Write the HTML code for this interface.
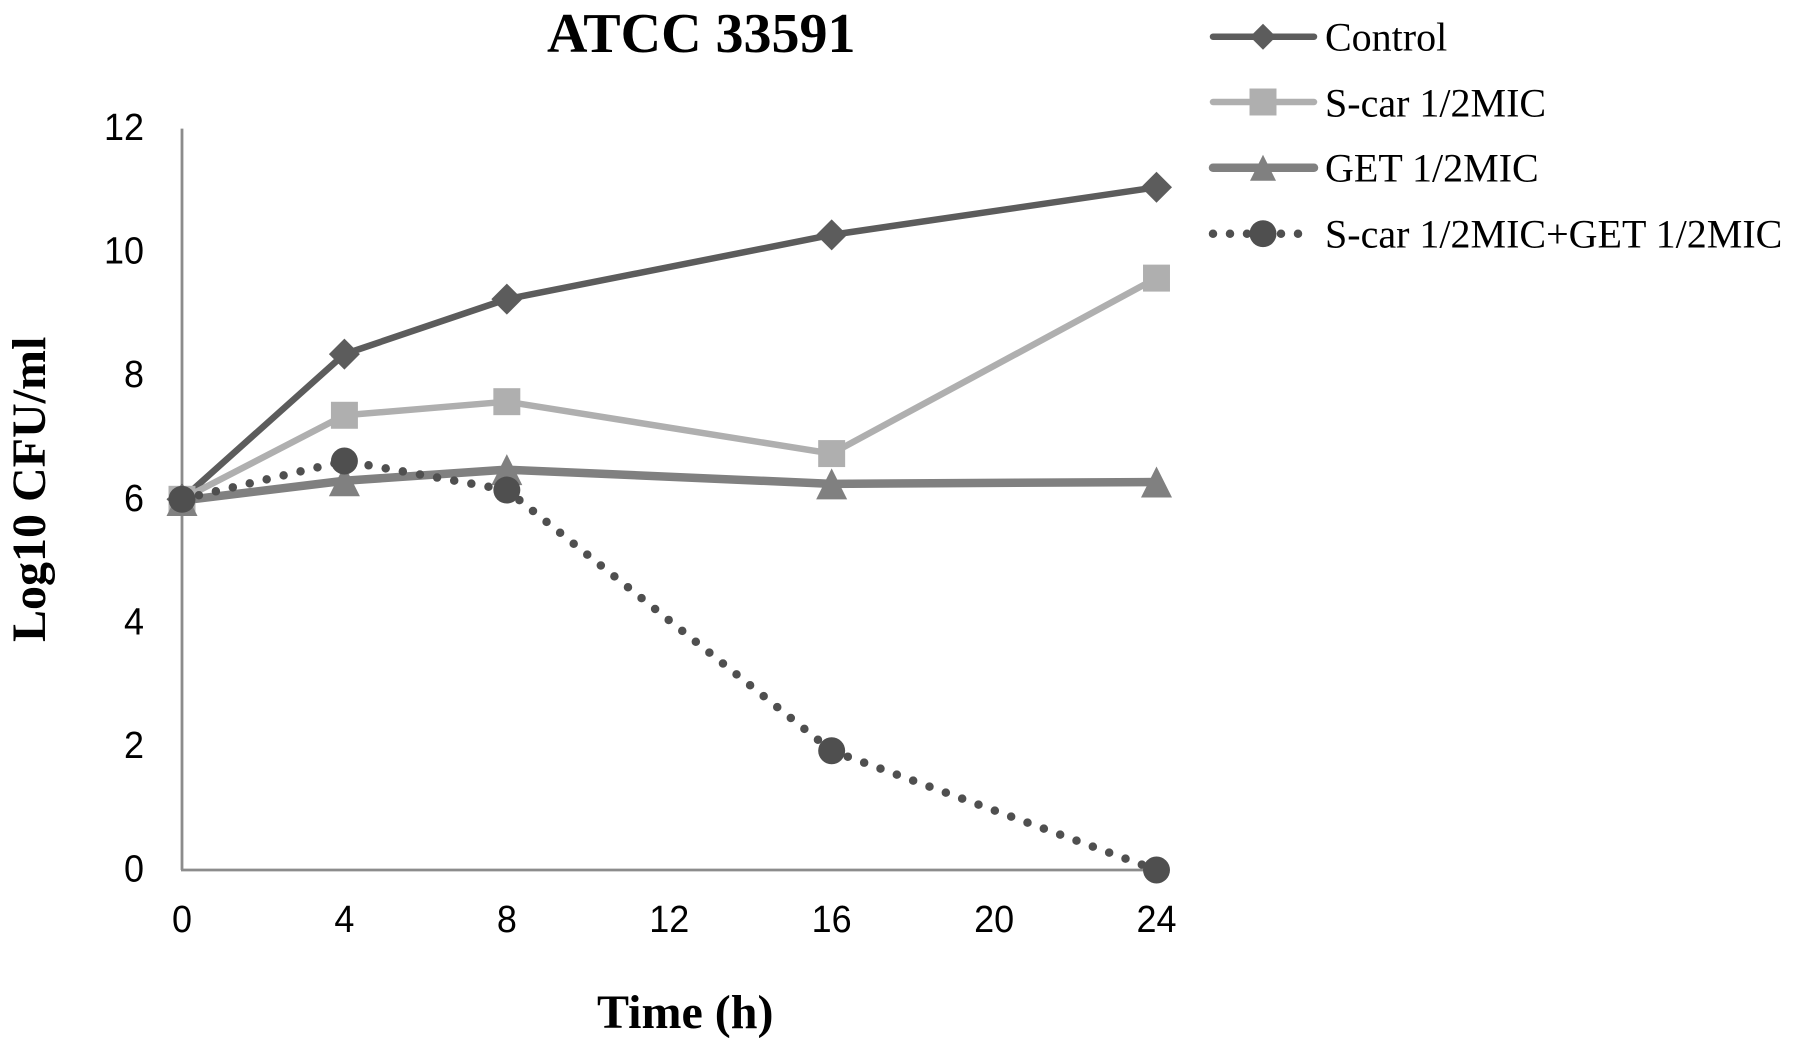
<!DOCTYPE html>
<html lang="en">
<head>
<meta charset="utf-8">
<title>ATCC 33591</title>
<style>
html,body{margin:0;padding:0;background:#fff;}
svg{display:block;}
text{fill:#000;}
.serif{font-family:"Liberation Serif",serif;}
.sans{font-family:"Liberation Sans",sans-serif;}
</style>
</head>
<body>
<svg id="chart" xmlns="http://www.w3.org/2000/svg" width="1795" height="1050" viewBox="0 0 1795 1050">
  <rect x="0" y="0" width="1795" height="1050" fill="#ffffff"/>
  <text class="serif" x="547" y="52" font-size="56" font-weight="bold">ATCC 33591</text>
  <text class="serif" transform="translate(45 642) rotate(-90)" x="0" y="0" font-size="48" font-weight="bold">Log10 CFU/ml</text>
  <text class="serif" x="597" y="1028" font-size="48" font-weight="bold">Time (h)</text>
  <g id="axes"></g>
  <g id="series"></g>
  <g id="legend"></g>
</svg>
<script>
const times = [0, 4, 8, 16, 24];
const xTicks = [0, 4, 8, 12, 16, 20, 24];
const yTicks = [0, 2, 4, 6, 8, 10, 12];
const controlValues = [6.0, 8.35, 9.24, 10.28, 11.05];
const scarValues = [6.0, 7.36, 7.58, 6.74, 9.58];
const getValues = [5.98, 6.3, 6.48, 6.25, 6.28];
const comboValues = [6.0, 6.62, 6.15, 1.93, 0];
const seriesNames = ["Control", "S-car 1/2MIC", "GET 1/2MIC", "S-car 1/2MIC+GET 1/2MIC"];

const NS = "http://www.w3.org/2000/svg";
const xMin = 0, xMax = 24, yMin = 0, yMax = 12;
const plotLeft = 182, plotRight = 1156.5, plotBottom = 870, plotTop = 128.6;
function xScale(v) { return plotLeft + (v - xMin) / (xMax - xMin) * (plotRight - plotLeft); }
function yScale(v) { return plotBottom - (v - yMin) / (yMax - yMin) * (plotBottom - plotTop); }

function make(tag, attrs, parent) {
  const el = document.createElementNS(NS, tag);
  for (const k in attrs) el.setAttribute(k, attrs[k]);
  parent.appendChild(el);
  return el;
}

const styles = [
  { shape: "diamond", color: "#5c5c5c", width: 6.5, dash: null },
  { shape: "square", color: "#afafaf", width: 6.5, dash: null },
  { shape: "triangle", color: "#808080", width: 8.5, dash: null },
  { shape: "circle", color: "#4f4f4f", width: 8.5, dash: "0 17.4" }
];
const allValues = [controlValues, scarValues, getValues, comboValues];

function marker(shape, cx, cy, r, color, parent) {
  let el;
  if (shape === "diamond") {
    el = make("polygon", { points: [cx, cy - r, cx + r, cy, cx, cy + r, cx - r, cy].join(" "), fill: color }, parent);
  } else if (shape === "square") {
    const h = r * 0.87;
    el = make("rect", { x: cx - h, y: cy - h, width: 2 * h, height: 2 * h, fill: color }, parent);
  } else if (shape === "triangle") {
    el = make("polygon", { points: [cx, cy - r, cx + r, cy + r, cx - r, cy + r].join(" "), fill: color }, parent);
  } else {
    el = make("circle", { cx: cx, cy: cy, r: r * 0.87, fill: color }, parent);
  }
  return el;
}

const axesG = document.getElementById("axes");
const yAxisLine = make("line", { x1: plotLeft, y1: plotTop, x2: plotLeft, y2: plotBottom, stroke: "#8c8c8c", "stroke-width": 2.8 }, axesG);


const xAxisLine = make("line", { x1: plotLeft - 1, y1: plotBottom, x2: plotRight, y2: plotBottom, stroke: "#8c8c8c", "stroke-width": 2.8 }, axesG);



function tickLength(t) { return String(t).length * 20; }

yTicks.forEach(function (t) {
  const el = make("text", { x: 144, y: yScale(t) + 11.5, "text-anchor": "end", "font-size": 38, class: "sans", textLength: tickLength(t), lengthAdjust: "spacingAndGlyphs" }, axesG);
  el.textContent = t;
  
  
});
xTicks.forEach(function (t) {
  const el = make("text", { x: xScale(t), y: 932, "text-anchor": "middle", "font-size": 38, class: "sans", textLength: tickLength(t), lengthAdjust: "spacingAndGlyphs" }, axesG);
  el.textContent = t;
  
  
});

const seriesG = document.getElementById("series");
allValues.forEach(function (vals, i) {
  const st = styles[i];
  const g = make("g", {}, seriesG);
  
  
  const pts = vals.map(function (v, j) { return xScale(times[j]) + "," + yScale(v); }).join(" ");
  const line = make("polyline", { points: pts, fill: "none", stroke: st.color, "stroke-width": st.width, "stroke-linejoin": "round", "stroke-linecap": "round" }, g);
  if (st.dash) line.setAttribute("stroke-dasharray", st.dash);
  
  
  vals.forEach(function (v, j) {
    const m = marker(st.shape, xScale(times[j]), yScale(v), 15.5, st.color, g);
    
    
  });
});

const legendG = document.getElementById("legend");
const legendBaselines = [50.7, 116.7, 181.7, 247.3];
const legendLineY = [36.7, 102, 167.7, 233.7];
seriesNames.forEach(function (name, i) {
  const st = styles[i];
  const g = make("g", {}, legendG);
  
  
  const y = legendLineY[i];
  const line = make("line", { x1: 1213, y1: y, x2: 1314, y2: y, stroke: st.color, "stroke-width": st.width, "stroke-linecap": "round" }, g);
  if (st.dash) line.setAttribute("stroke-dasharray", "0 17");
  
  
  const m = marker(st.shape, 1263, y, st.shape === "diamond" || st.shape === "triangle" ? 13 : 15.5, st.color, g);
  
  
  const label = make("text", { x: 1325, y: legendBaselines[i], "font-size": 40, class: "serif" }, g);
  label.textContent = name;
  
  
});
</script>
</body>
</html>
